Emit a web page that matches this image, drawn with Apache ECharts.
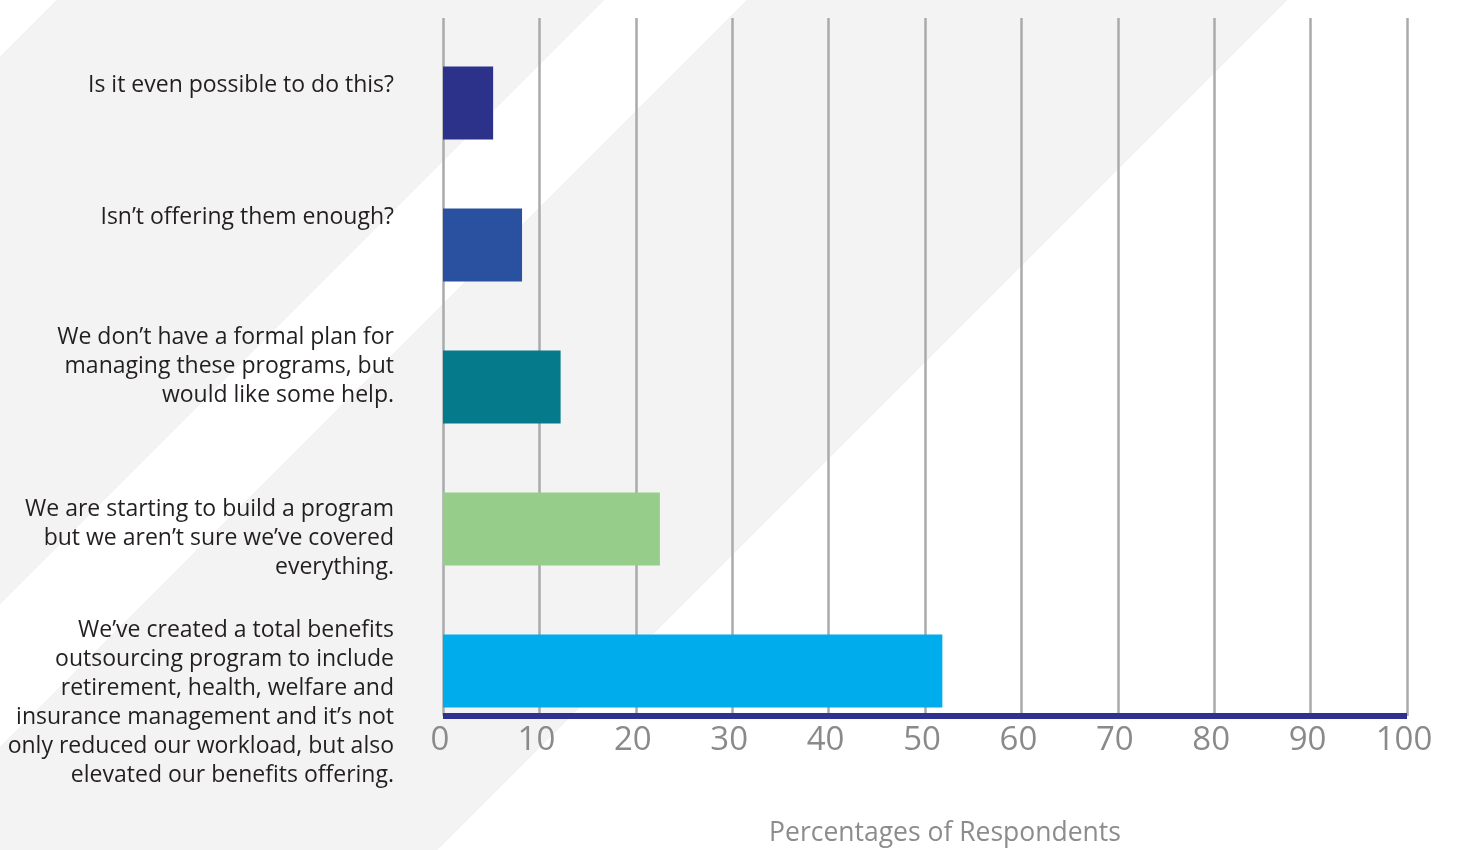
<!DOCTYPE html>
<html>
<head>
<meta charset="utf-8">
<script src="https://cdn.jsdelivr.net/npm/echarts@6/dist/echarts.min.js"></script>
<style>
  html, body { margin: 0; padding: 0; }
  /* diagonal light-grey bands behind the chart */
  #chart {
    width: 1457px; height: 850px;
    background: linear-gradient(135deg,
      #ffffff 0%, #ffffff 2.47%,
      #f3f3f3 2.47%, #f3f3f3 26.2%,
      #ffffff 26.2%, #ffffff 32.35%,
      #f3f3f3 32.35%, #f3f3f3 55.8%,
      #ffffff 55.8%, #ffffff 100%);
  }
</style>
</head>
<body>
<div id="chart"></div>
<script>
// Survey answers, top to bottom
const categories = [
  'Is it even possible to do this?',
  'Isn\u2019t offering them enough?',
  'We don\u2019t have a formal plan for\nmanaging these programs, but\nwould like some help.',
  'We are starting to build a program\nbut we aren\u2019t sure we\u2019ve covered\neverything.',
  'We\u2019ve created a total benefits\noutsourcing program to include\nretirement, health, welfare and\ninsurance management and it\u2019s not\nonly reduced our workload, but also\nelevated our benefits offering.'
];
// Percent of respondents per answer
const values = [5.2, 8.2, 12.2, 22.5, 51.8];
const barColors = ['#2c3189', '#2a50a0', '#047a8b', '#97cd8a', '#00acec'];
// Axis range and tick step (percent)
const axisMin = 0, axisMax = 100, axisStep = 10;
// vertical nudge of each answer label, in px (negative = up)
const labelNudge = [-18, -28, -21, 9, 32];

const FONT = '"Open Sans", Lato, sans-serif';

// Spacer tokens: an empty line of a given height above or below a label moves it
const rich = {};
labelNudge.forEach((d, i) => {
  rich['g' + i] = { height: Math.abs(2 * d), lineHeight: Math.abs(2 * d), fontSize: 1 };
});
function labelText(value, index) {
  const d = labelNudge[index];
  if (!d) return value;
  return d < 0 ? value + '\n{g' + index + '|}' : '{g' + index + '|}\n' + value;
}

const chart = echarts.init(document.getElementById('chart'), null, { renderer: 'canvas' });

chart.setOption({
  backgroundColor: 'transparent',
  animation: false,
  grid: [
    // grid 0: percentage axis and vertical guide lines
    { left: 443, right: 50, top: 18, bottom: 134, outerBoundsMode: 'none', containLabel: false },
    // grid 1: bars and answer labels
    { left: 443, right: 50, top: 32, bottom: 108, outerBoundsMode: 'none', containLabel: false }
  ],
  xAxis: [
    {
      gridIndex: 0, type: 'value', min: axisMin, max: axisMax, interval: axisStep,
      axisLine: { show: true, lineStyle: { color: '#2e3190', width: 6, cap: 'butt' } },
      axisTick: { show: false },
      splitLine: { show: true, lineStyle: { color: '#a9aaad', width: 2.5 } },
      axisLabel: { color: '#8a8a8a', fontSize: 33, fontFamily: FONT, margin: 8, padding: [0, 6, 0, 0] },
      name: 'Percentages of Respondents',
      nameLocation: 'middle',
      nameGap: 104,
      nameTextStyle: { color: '#8c8c8c', fontSize: 26.5, fontFamily: FONT, padding: [0, 0, 0, 40] }
    },
    {
      gridIndex: 1, type: 'value', min: axisMin, max: axisMax, show: false
    }
  ],
  yAxis: [
    { gridIndex: 0, type: 'value', show: false },
    {
      gridIndex: 1, type: 'category', inverse: true,
      data: categories,
      axisLine: { show: false },
      axisTick: { show: false },
      splitLine: { show: false },
      axisLabel: {
        interval: 0,
        hideOverlap: false,
        color: '#231f20', fontSize: 23, lineHeight: 29, fontFamily: FONT,
        align: 'right', margin: 49,
        formatter: labelText,
        rich: rich
      }
    }
  ],
  series: [
    {
      type: 'bar',
      xAxisIndex: 1, yAxisIndex: 1,
      barWidth: 73,
      data: values.map((v, i) => ({ value: v, itemStyle: { color: barColors[i] } })),
      z: 3
    }
  ]
});
</script>
</body>
</html>
